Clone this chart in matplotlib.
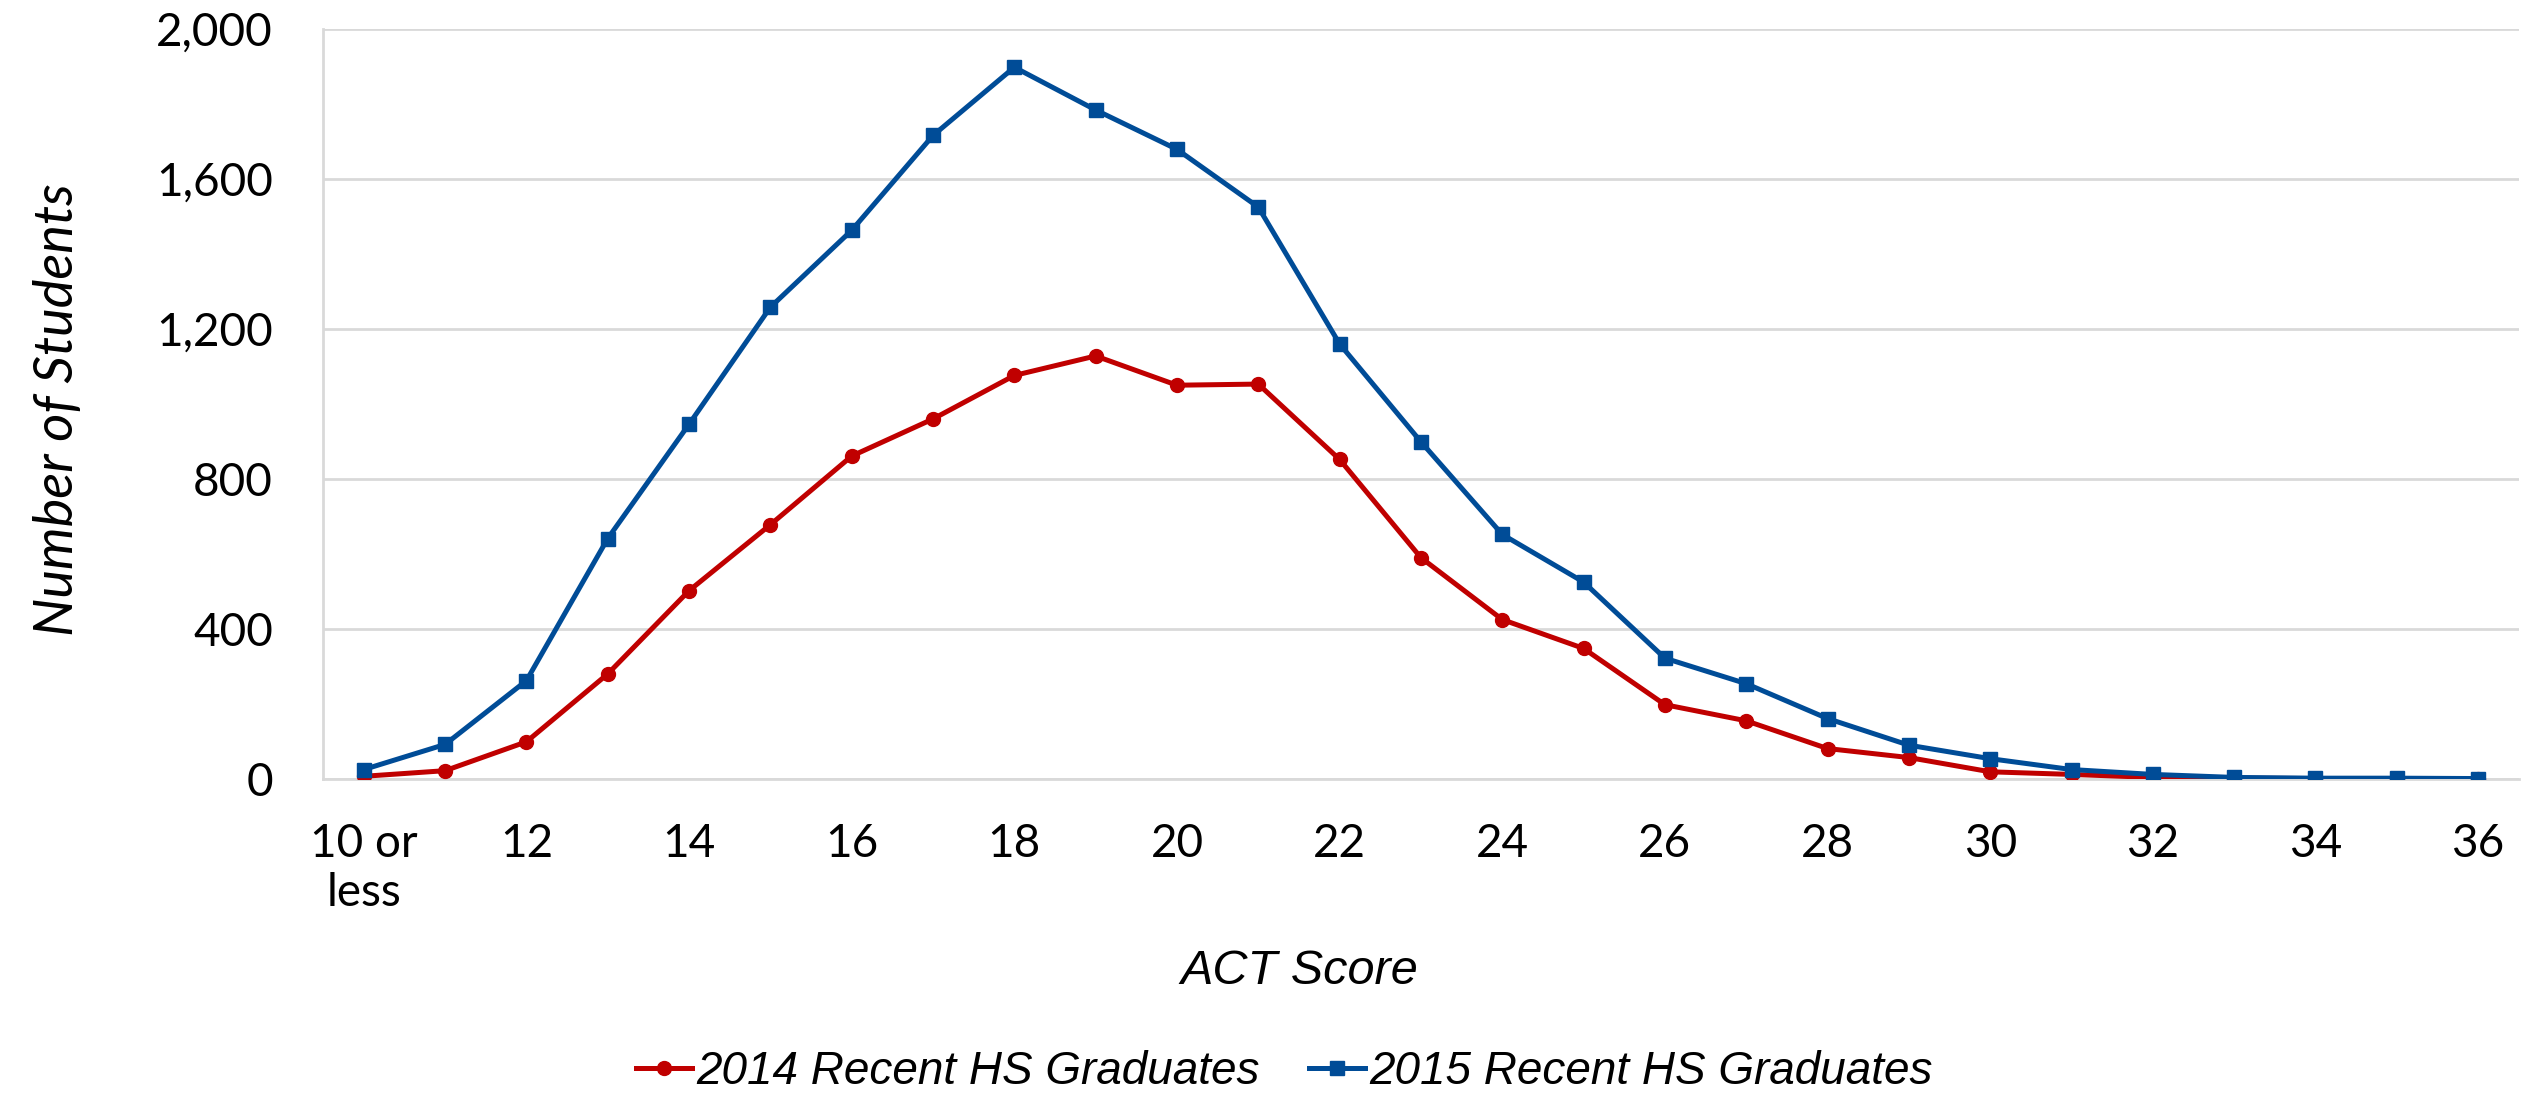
import numpy as np
import matplotlib
matplotlib.use("Agg")
import matplotlib.pyplot as plt

plt.rcParams['font.family'] = ['Lato', 'DejaVu Sans']

# ACT score categories
categories = ['10 or\nless'] + [str(s) for s in range(11, 37)]

# Number of students per score
grads_2014 = [7, 22, 99, 280, 502, 678, 861, 960, 1076, 1128, 1050, 1053, 852,
              590, 425, 348, 198, 155, 81, 57, 19, 12, 4, 2, 1, 1, 1]
grads_2015 = [25, 92, 262, 641, 946, 1258, 1463, 1716, 1898, 1784, 1679, 1525, 1160,
              899, 652, 525, 322, 254, 161, 90, 54, 25, 12, 4, 2, 2, 1]

y_ticks = [0, 400, 800, 1200, 1600, 2000]

red = '#C00000'
blue = '#004C97'
grid_col = '#D9D9D9'

fig = plt.figure(figsize=(25.34, 10.94), dpi=100)
ax = fig.add_axes([0.1275, 0.288, 0.8665, 0.6855])

x = np.arange(len(categories))
ax.plot(x, grads_2014, color=red, lw=3.6, marker='o', ms=10, mew=1,
        label='2014 Recent HS Graduates', zorder=3)
ax.plot(x, grads_2015, color=blue, lw=3.6, marker='s', ms=9.5, mew=1,
        label='2015 Recent HS Graduates', zorder=4)

ax.set_xlim(-0.5, len(categories) - 0.5)
ax.set_ylim(0, 2000)
ax.set_yticks(y_ticks)
ax.set_yticklabels([f'{v:,}' for v in y_ticks])
ax.set_xticks(x[::2])
ax.set_xticklabels(categories[::2])
ax.tick_params(axis='both', length=0, labelsize=33, colors='black')
ax.tick_params(axis='y', pad=36)
ax.tick_params(axis='x', pad=32)

ax.grid(axis='y', color=grid_col, lw=2)
ax.set_axisbelow(True)
for side in ['top', 'right']:
    ax.spines[side].set_visible(False)
for side in ['left', 'bottom']:
    ax.spines[side].set_color(grid_col)
    ax.spines[side].set_linewidth(2)

fig.text(0.0225, 0.626, 'Number of Students', fontsize=39, style='italic',
         rotation=90, ha='center', va='center')
fig.text(0.5126, 0.1124, 'ACT Score', fontsize=35, style='italic',
         family=['Liberation Sans', 'DejaVu Sans'], ha='center', va='center')

leg = fig.legend(loc='center', bbox_to_anchor=(0.5069, 0.0201), ncol=2,
                 frameon=False,
                 prop={'size': 33, 'style': 'italic',
                       'family': ['Liberation Sans', 'DejaVu Sans']},
                 handlelength=1.22, handletextpad=0.1, columnspacing=1.07,
                 borderpad=0, borderaxespad=0)

fig.savefig('out.png', dpi=100)
